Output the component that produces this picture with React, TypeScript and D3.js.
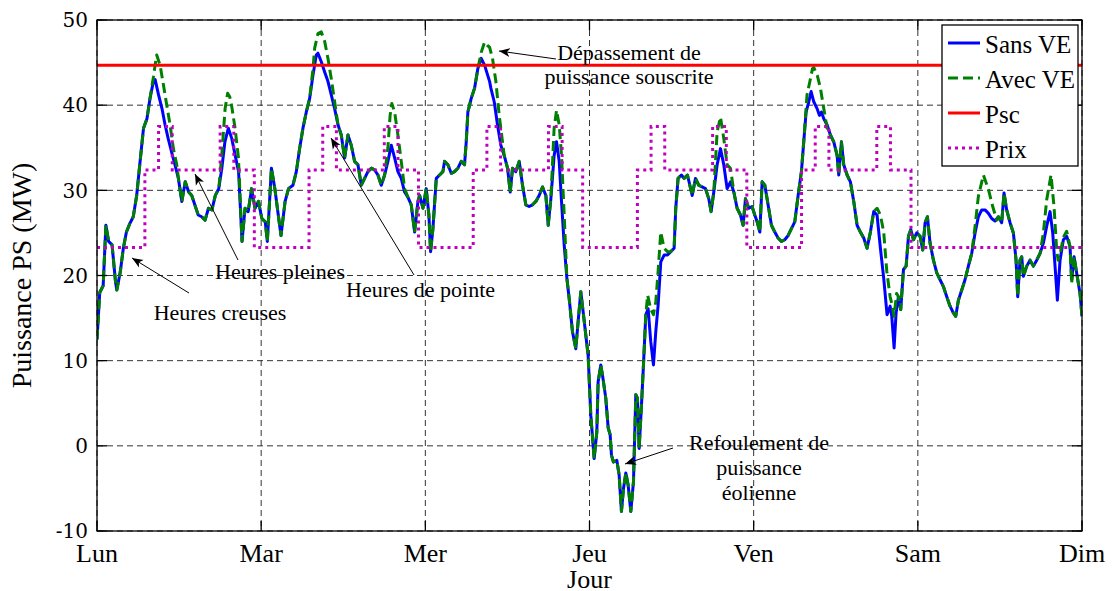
import { useEffect, useRef } from "react";
import * as d3 from "d3";

// hours since Monday 00:00, power in MW
const sansVE: [number, number][] = [
	[0, 12.5], [0.4, 18], [0.9, 18.8], [1.3, 25.9], [1.7, 24], [2.2, 23.6], [2.7, 19.3], [2.9, 18.3],
	[3.4, 20.4], [3.85, 23.2], [4.3, 25.1], [4.8, 26.1], [5.3, 26.9], [5.8, 29.4], [6.3, 33.4], [6.8, 37.3],
	[7.3, 38.4], [7.75, 40.8], [8.25, 42.8], [8.5, 43], [9, 41.2], [9.5, 39.6], [9.95, 37.7], [10.4, 36.1],
	[10.9, 34.5], [11.4, 33], [11.9, 31.4], [12.4, 28.7], [12.9, 31], [13.4, 29.8], [13.85, 29.4], [14.3, 28.3],
	[14.8, 27.1], [15.3, 26.9], [15.8, 26.5], [16.3, 27.9], [16.8, 27.7], [17.3, 29.4], [17.8, 30.2], [18.25, 32.6],
	[18.7, 35.7], [19.2, 37.3], [19.7, 36.1], [20.2, 34.1], [20.7, 32.2], [21.2, 24], [21.65, 27.9], [22.1, 27.5],
	[22.6, 30.2], [23.1, 27.9], [23.6, 28.7], [24.1, 26.7], [24.6, 26.3], [24.9, 24], [25.5, 32.6], [26, 30.2],
	[26.5, 27.1], [26.9, 24.7], [27.5, 28.7], [28, 30.2], [28.65, 30.6], [29.14, 32.2], [29.62, 34.9], [30.11, 37.3],
	[30.6, 39.2], [31.09, 40.8], [31.57, 43.5], [32.06, 45.9], [32.3, 46.1], [32.79, 45.1], [33.28, 43.9], [33.76, 42.8],
	[34.25, 41.2], [34.74, 39.6], [35.23, 37.7], [35.71, 36.5], [36.2, 33.8], [36.69, 36.5], [37.17, 35.3], [37.66, 33.4],
	[38.15, 33], [38.64, 30.6], [39.12, 31.4], [39.61, 32.2], [40.1, 32.6], [40.58, 32.4], [41.07, 31.8], [41.56, 30.6],
	[42.05, 31.8], [42.53, 33.4], [43.02, 35.3], [43.51, 33.8], [43.99, 32.2], [44.48, 31.4], [44.97, 29.8], [45.45, 29.2],
	[45.94, 28.3], [46.43, 25.1], [46.92, 28.7], [47.16, 29.4], [47.65, 27.9], [48.13, 30.2], [48.52, 27.1], [48.77, 22.8],
	[49.11, 25.5], [49.6, 31.4], [50.08, 31.8], [50.57, 32.2], [50.81, 33.4], [51.3, 33], [51.79, 32], [52.27, 32.2],
	[52.76, 32.6], [53.25, 33.4], [53.73, 33], [53.98, 35.7], [54.22, 39.2], [54.71, 40.8], [55.2, 42], [55.68, 44.3],
	[56.17, 45.5], [56.66, 44.7], [57.39, 42.8], [57.58, 42], [58.07, 40.4], [58.55, 37.7], [59.04, 35.3], [59.53, 34.1],
	[60.02, 32.6], [60.41, 29.8], [60.75, 32.6], [61.23, 32.2], [61.72, 33.4], [62.21, 30.6], [62.69, 28.3], [63.18, 28.1],
	[63.67, 28.3], [64.16, 28.7], [64.64, 29.4], [65.13, 30.4], [65.62, 29.4], [65.96, 25.9], [66.35, 29], [66.83, 34.1],
	[67.18, 35.7], [67.57, 33.4], [67.91, 28.7], [68.3, 23.6], [68.69, 19.7], [69.03, 17.3], [69.51, 13.4], [70, 11.4],
	[70.34, 14.6], [70.73, 18.1], [71.12, 15.4], [71.46, 13], [71.8, 10.6], [72.19, 3.6], [72.68, -1.5], [73.07, 1.6],
	[73.26, 7.5], [73.65, 9.5], [73.9, 8.3], [74.38, 5.6], [74.73, 2.1], [75.02, 1.3], [75.21, -1.1], [75.5, -1.9],
	[75.99, -1.7], [76.33, -3.4], [76.67, -7.7], [76.97, -5], [77.31, -3.2], [77.65, -4.6], [78.04, -7.7], [78.43, -4.2],
	[78.77, 6], [79.01, 5.6], [79.26, -0.3], [79.6, 4.8], [79.89, 9.5], [80.23, 15.4], [80.57, 16.1], [80.96, 12.2],
	[81.35, 9.5], [81.69, 13.4], [82.03, 16.5], [82.42, 21.6], [82.91, 22.4], [83.4, 22.4], [83.88, 22.8], [84.37, 23.2],
	[84.61, 27.9], [84.95, 31.4], [85.44, 31.8], [85.83, 31.4], [86.32, 31.8], [87.01, 29.4], [87.49, 31.4], [87.98, 30.6],
	[88.47, 30.4], [88.96, 30.2], [89.44, 29], [89.78, 27.5], [90.17, 29.8], [90.66, 33], [91.15, 34.9], [91.63, 33],
	[92.12, 30.2], [92.61, 31], [93.1, 29.8], [93.58, 27.9], [94.07, 27.1], [94.46, 25.9], [94.8, 29], [95.29, 27.9],
	[95.77, 28.1], [96.16, 27.1], [96.51, 26.3], [96.9, 25.1], [97.24, 31], [97.63, 30.6], [98.11, 28.3], [98.6, 25.9],
	[99.09, 25.1], [99.57, 24.4], [100.06, 24], [100.55, 24.2], [101.04, 24.7], [101.52, 25.5], [102.01, 26.3], [102.5, 29.4],
	[102.98, 32.2], [103.32, 35.7], [103.67, 39.2], [104.06, 40.4], [104.4, 41.6], [104.79, 40.4], [105.27, 39.6], [105.61, 38.8],
	[105.91, 39.2], [106.25, 38.4], [106.73, 37.7], [107.22, 36.5], [107.71, 35.7], [108.2, 34.1], [108.44, 31.8], [108.83, 35.7],
	[109.17, 33], [109.66, 31.8], [110.14, 31], [110.63, 28.7], [111.12, 25.9], [111.6, 25.1], [112.09, 24.4], [112.58, 23.2],
	[113.07, 25.1], [113.55, 27.5], [114.04, 27.1], [114.53, 23.2], [115.01, 19.7], [115.5, 15.4], [115.95, 16.4], [116.19, 15.2],
	[116.53, 11.5], [116.82, 15.6], [117.16, 17.5], [117.5, 16], [117.9, 20.7], [118.29, 21.1], [118.63, 24.6], [118.97, 25.4],
	[119.36, 24.2], [119.84, 25], [120.33, 24.6], [120.72, 23], [121.06, 26.2], [121.4, 26.9], [121.79, 23.8], [122.28, 21.8],
	[122.77, 20.3], [123.25, 19.5], [123.74, 18.7], [124.23, 17.5], [124.71, 16.4], [125.2, 15.6], [125.54, 15.2], [125.93, 17.1],
	[126.42, 18.3], [126.9, 19.5], [127.39, 21.1], [127.88, 22.6], [128.37, 25], [128.85, 26.9], [129.34, 27.7], [129.83, 27.7],
	[130.32, 27.3], [130.8, 26.7], [131.29, 26.4], [131.78, 26.9], [132.26, 26.2], [132.6, 29.7], [132.99, 27.7], [133.48, 26.2],
	[133.97, 25], [134.36, 21.8], [134.6, 17.5], [134.94, 21.8], [135.19, 22.2], [135.43, 19.9], [135.92, 21.1], [136.4, 21.8],
	[136.89, 21.1], [137.38, 21.8], [137.87, 22.6], [138.35, 23.8], [138.84, 25.8], [139.33, 27.5], [139.72, 25], [140.06, 21.1],
	[140.4, 17.1], [140.79, 21.8], [141.28, 24.2], [141.76, 24.6], [142.25, 23.4], [142.49, 19.5], [142.84, 22.2], [143.22, 20.3],
	[143.71, 17.9], [144, 15.2],
];

const avecVE: [number, number][] = [
	[0, 12.5], [0.4, 18], [0.9, 18.8], [1.3, 25.9], [1.7, 24], [2.2, 23.6], [2.7, 19.3], [2.9, 18.3],
	[3.4, 20.4], [3.85, 23.2], [4.3, 25.1], [4.8, 26.1], [5.3, 26.9], [5.8, 29.4], [6.3, 33.4], [6.8, 37.3],
	[7.3, 38.4], [7.75, 40.8], [8.25, 43.3], [8.49, 44.7], [8.73, 45.9], [9.22, 44.7], [9.71, 42.4], [10.2, 40],
	[10.68, 37.7], [11.17, 34.9], [11.66, 33], [11.9, 31.4], [12.4, 28.7], [12.9, 31], [13.4, 29.8], [13.85, 29.4],
	[14.3, 28.3], [14.8, 27.1], [15.3, 26.9], [15.8, 26.5], [16.3, 27.9], [16.8, 27.7], [17.3, 29.4], [17.8, 30.2],
	[18.24, 34.1], [18.73, 39.6], [19.1, 41.4], [19.4, 41], [19.71, 39.8], [20.2, 37.2], [20.68, 33.8], [21.2, 24],
	[21.65, 27.9], [22.1, 27.5], [22.6, 30.2], [23.1, 27.9], [23.6, 28.7], [24.1, 26.7], [24.6, 26.3], [24.9, 24],
	[25.5, 32.6], [26, 30.2], [26.5, 27.1], [26.9, 24.7], [27.5, 28.7], [28, 30.2], [28.65, 30.6], [29.14, 32.2],
	[29.62, 34.9], [30.11, 37.3], [30.6, 39.2], [31.09, 40.8], [31.57, 44.2], [31.82, 46.7], [32.3, 48.4], [32.79, 48.6],
	[33.28, 47.5], [33.76, 45.5], [34.25, 43.1], [34.74, 40.4], [35.23, 37.7], [35.71, 36.5], [36.2, 33.8], [36.69, 36.5],
	[37.17, 35.3], [37.66, 33.4], [38.15, 33], [38.64, 30.6], [39.12, 31.4], [39.61, 32.2], [40.1, 32.6], [40.58, 32.4],
	[41.07, 31.8], [41.56, 30.6], [42.05, 31.8], [42.53, 35], [42.85, 38.8], [43.1, 40.2], [43.51, 39.2], [43.99, 36.5],
	[44.48, 33.4], [44.97, 30.2], [45.45, 29.2], [45.94, 28.3], [46.43, 25.1], [46.92, 28.7], [47.16, 29.4], [47.65, 27.9],
	[48.13, 30.2], [48.52, 27.1], [48.77, 22.8], [49.11, 25.5], [49.6, 31.4], [50.08, 31.8], [50.57, 32.2], [50.81, 33.4],
	[51.3, 33], [51.79, 32], [52.27, 32.2], [52.76, 32.6], [53.25, 33.4], [53.73, 33], [53.98, 35.7], [54.22, 39.2],
	[54.71, 40.8], [55.2, 42], [55.68, 44.3], [56.17, 46.2], [56.66, 47.4], [57.1, 47], [57.39, 46.8], [57.82, 45.5],
	[58.31, 42.8], [58.8, 38.8], [59.28, 35.7], [59.53, 34.1], [60.02, 32.6], [60.41, 29.8], [60.75, 32.6], [61.23, 32.2],
	[61.72, 33.4], [62.21, 30.6], [62.69, 28.3], [63.18, 28.1], [63.67, 28.3], [64.16, 28.7], [64.64, 29.4], [65.13, 30.4],
	[65.62, 29.4], [65.96, 25.9], [66.35, 29], [66.83, 37.3], [67.18, 39.4], [67.57, 37.7], [67.91, 34.1], [68.3, 27.1],
	[68.69, 19.7], [69.03, 17.3], [69.51, 13.4], [70, 11.4], [70.34, 14.6], [70.73, 18.1], [71.12, 15.4], [71.46, 13],
	[71.8, 10.6], [72.19, 3.6], [72.68, -1.5], [73.07, 1.6], [73.26, 7.5], [73.65, 9.5], [73.9, 8.3], [74.38, 5.6],
	[74.73, 2.1], [75.02, 1.3], [75.21, -1.1], [75.5, -1.9], [75.99, -1.7], [76.33, -3.4], [76.67, -7.7], [76.97, -5],
	[77.31, -3.2], [77.65, -4.6], [78.04, -7.7], [78.43, -4.2], [78.77, 6], [79.01, 5.6], [79.26, -0.3], [79.6, 4.8],
	[79.89, 9.5], [80.23, 15.4], [80.5, 17.7], [80.96, 16], [81.35, 15.4], [81.69, 16.9], [82.03, 20.5], [82.42, 25.1],
	[82.91, 23.2], [83.4, 22.8], [83.88, 22.8], [84.37, 23.2], [84.61, 27.9], [84.95, 31.4], [85.44, 31.8], [85.83, 31.4],
	[86.32, 31.8], [87.01, 29.4], [87.49, 31.4], [87.98, 30.6], [88.47, 30.4], [88.96, 30.2], [89.44, 29], [89.78, 27.5],
	[90.17, 29.8], [90.66, 36.9], [91.15, 38.6], [91.63, 36.1], [92.12, 33], [92.61, 32.6], [93.1, 29.8], [93.58, 27.9],
	[94.07, 27.1], [94.46, 25.9], [94.8, 29], [95.29, 27.9], [95.77, 28.1], [96.16, 27.1], [96.51, 26.3], [96.9, 25.1],
	[97.24, 31], [97.63, 30.6], [98.11, 28.3], [98.6, 25.9], [99.09, 25.1], [99.57, 24.4], [100.06, 24], [100.55, 24.2],
	[101.04, 24.7], [101.52, 25.5], [102.01, 26.3], [102.5, 29.4], [102.98, 32.2], [103.32, 35.7], [103.8, 41.2], [104.3, 43.1],
	[104.6, 44.3], [104.8, 44.4], [105.3, 43.5], [105.76, 42], [106.25, 39.6], [106.73, 37.3], [107.22, 36.5], [107.71, 35.7],
	[108.2, 34.1], [108.44, 31.8], [108.83, 35.7], [109.17, 33], [109.66, 31.8], [110.14, 31], [110.63, 28.7], [111.12, 25.9],
	[111.6, 25.1], [112.09, 24.4], [112.58, 23.2], [113.07, 25.1], [113.55, 27.5], [114.04, 27.9], [114.53, 27.1], [115.01, 25.1],
	[115.46, 20.5], [115.95, 17.5], [116.19, 16.7], [116.53, 15.2], [116.9, 17.9], [117.16, 17.5], [117.5, 16], [117.9, 20.7],
	[118.29, 21.1], [118.63, 24.6], [118.97, 25.4], [119.36, 24.2], [119.84, 25], [120.33, 24.6], [120.72, 23], [121.06, 26.2],
	[121.4, 26.9], [121.79, 23.8], [122.28, 21.8], [122.77, 20.3], [123.25, 19.5], [123.74, 18.7], [124.23, 17.5], [124.71, 16.4],
	[125.2, 15.6], [125.54, 15.2], [125.93, 17.1], [126.42, 18.3], [126.9, 19.5], [127.39, 21.1], [127.88, 22.6], [128.37, 25.8],
	[128.85, 29.3], [129.59, 31.8], [130.32, 30.1], [130.95, 28.1], [131.53, 26.5], [131.78, 26.9], [132.26, 26.2], [132.6, 29.7],
	[132.99, 27.7], [133.48, 26.2], [133.97, 25], [134.36, 21.8], [134.6, 17.5], [134.94, 21.8], [135.19, 22.2], [135.43, 19.9],
	[135.92, 21.1], [136.4, 21.8], [136.89, 21.1], [137.38, 21.8], [137.87, 22.6], [138.35, 25], [138.84, 28.9], [139.47, 31.8],
	[139.91, 28.1], [140.3, 23], [140.5, 21.8], [140.79, 22.5], [141.28, 24.5], [141.76, 25.2], [142.25, 23.4], [142.49, 19.1],
	[142.84, 22.2], [143.22, 20.3], [143.71, 17.9], [144, 15.2],
];

const psc = 44.7;

// tariff steps: start hour of each period and its level
const prixHours = [0, 7, 9, 11, 18, 20, 23, 31, 33, 35, 42, 44, 47, 55, 57, 59, 66, 68, 71, 79, 81, 83, 90, 92, 95, 103, 105, 107, 114, 116, 119, 144];
const prixLevels = [23.3, 32.4, 37.5, 32.4, 37.5, 32.4, 23.3, 32.4, 37.5, 32.4, 37.5, 32.4, 23.3, 32.4, 37.5, 32.4, 37.5, 32.4, 23.3, 32.4, 37.5, 32.4, 37.5, 32.4, 23.3, 32.4, 37.5, 32.4, 37.5, 32.4, 23.3, 23.3];

const dayLabels = ["Lun", "Mar", "Mer", "Jeu", "Ven", "Sam", "Dim"];
const yTicks = [-10, 0, 10, 20, 30, 40, 50];

const legendItems = [
	{ label: "Sans VE", color: "#0000ff", dash: "none" },
	{ label: "Avec VE", color: "#008000", dash: "10,5" },
	{ label: "Psc", color: "#ff0000", dash: "none" },
	{ label: "Prix", color: "#bf00bf", dash: "3,4" },
];

export default function App() {
	const svgRef = useRef<SVGSVGElement>(null);
	const width = 1112;
	const height = 591;

	useEffect(() => {
		if (!svgRef.current) return;
		const svg = d3.select(svgRef.current);
		svg.selectAll("*").remove();

		const left = 97, right = 1082, top = 20, bottom = 531;
		const x = d3.scaleLinear().domain([0, 144]).range([left, right]);
		const y = d3.scaleLinear().domain([-10, 50]).range([bottom, top]);
		const serif = "'Liberation Serif', 'Times New Roman', serif";

		svg.append("rect").attr("width", width).attr("height", height).attr("fill", "#fff");

		const defs = svg.append("defs");
		defs.append("marker")
			.attr("id", "arrow")
			.attr("viewBox", "0 -5 12 10")
			.attr("refX", 11)
			.attr("refY", 0)
			.attr("markerWidth", 12)
			.attr("markerHeight", 10)
			.attr("markerUnits", "userSpaceOnUse")
			.attr("orient", "auto")
			.append("path")
			.attr("d", "M0,-4.5L11,0L0,4.5L3,0Z")
			.attr("fill", "#000");
		defs.append("clipPath").attr("id", "plot-clip")
			.append("rect").attr("x", left).attr("y", top).attr("width", right - left).attr("height", bottom - top);

		// grid
		const grid = svg.append("g").attr("stroke", "#333").attr("stroke-width", 1).attr("stroke-dasharray", "6,4");
		yTicks.forEach((t) => {
			grid.append("line").attr("x1", left).attr("x2", right).attr("y1", y(t)).attr("y2", y(t));
		});
		dayLabels.forEach((_, i) => {
			grid.append("line").attr("x1", x(i * 24)).attr("x2", x(i * 24)).attr("y1", top).attr("y2", bottom);
		});

		const plot = svg.append("g").attr("clip-path", "url(#plot-clip)");
		const line = d3.line<[number, number]>().x((d) => x(d[0])).y((d) => y(d[1]));

		plot.append("path").datum(sansVE)
			.attr("fill", "none").attr("stroke", "#0000ff").attr("stroke-width", 3)
			.attr("stroke-linejoin", "round").attr("d", line);
		plot.append("path").datum(avecVE)
			.attr("fill", "none").attr("stroke", "#008000").attr("stroke-width", 3)
			.attr("stroke-dasharray", "10,5").attr("stroke-linejoin", "round").attr("d", line);
		plot.append("line")
			.attr("x1", x(0)).attr("x2", x(144)).attr("y1", y(psc)).attr("y2", y(psc))
			.attr("stroke", "#ff0000").attr("stroke-width", 3);

		const prixData: [number, number][] = prixHours.map((h, i) => [h, prixLevels[i]]);
		const stepLine = d3.line<[number, number]>().x((d) => x(d[0])).y((d) => y(d[1])).curve(d3.curveStepAfter);
		plot.append("path").datum(prixData)
			.attr("fill", "none").attr("stroke", "#bf00bf").attr("stroke-width", 3)
			.attr("stroke-dasharray", "3,4").attr("d", stepLine);

		// box + inward ticks
		const axes = svg.append("g").attr("stroke", "#000").attr("stroke-width", 1.3);
		axes.append("rect").attr("x", left).attr("y", top).attr("width", right - left).attr("height", bottom - top).attr("fill", "none");
		yTicks.forEach((t) => {
			axes.append("line").attr("x1", left).attr("x2", left + 10).attr("y1", y(t)).attr("y2", y(t));
			axes.append("line").attr("x1", right).attr("x2", right - 10).attr("y1", y(t)).attr("y2", y(t));
		});
		dayLabels.forEach((_, i) => {
			axes.append("line").attr("x1", x(i * 24)).attr("x2", x(i * 24)).attr("y1", bottom).attr("y2", bottom - 10);
			axes.append("line").attr("x1", x(i * 24)).attr("x2", x(i * 24)).attr("y1", top).attr("y2", top + 10);
		});

		// tick labels
		svg.append("g").selectAll("text").data(yTicks).join("text")
			.attr("x", left - 9).attr("y", (d) => y(d)).attr("dy", "0.36em")
			.attr("text-anchor", "end").attr("font-family", "'DejaVu Serif', serif").attr("font-size", 20)
			.text((d) => d);
		svg.append("g").selectAll("text").data(dayLabels).join("text")
			.attr("x", (_, i) => x(i * 24)).attr("y", 562)
			.attr("text-anchor", "middle").attr("font-family", serif).attr("font-size", 26)
			.text((d) => d);

		svg.append("text").attr("x", (left + right) / 2).attr("y", 588)
			.attr("text-anchor", "middle").attr("font-family", serif).attr("font-size", 26).text("Jour");
		svg.append("text")
			.attr("transform", `translate(31,${(top + bottom) / 2}) rotate(-90)`)
			.attr("text-anchor", "middle").attr("font-family", serif).attr("font-size", 28)
			.text("Puissance PS (MW)");

		// annotations
		const notes = svg.append("g").attr("font-family", serif).attr("font-size", 22).attr("fill", "#000");
		notes.append("text").attr("x", 220).attr("y", 320).attr("text-anchor", "middle").text("Heures creuses");
		notes.append("text").attr("x", 215).attr("y", 279).text("Heures pleines");
		notes.append("text").attr("x", 346).attr("y", 297).text("Heures de pointe");
		notes.append("text").attr("x", 629).attr("y", 60).attr("text-anchor", "middle").text("Dépassement de");
		notes.append("text").attr("x", 629).attr("y", 84).attr("text-anchor", "middle").text("puissance souscrite");
		notes.append("text").attr("x", 759).attr("y", 450).attr("text-anchor", "middle").text("Refoulement de");
		notes.append("text").attr("x", 759).attr("y", 475).attr("text-anchor", "middle").text("puissance");
		notes.append("text").attr("x", 759).attr("y", 500).attr("text-anchor", "middle").text("éolienne");

		const arrows = [
			[189, 293, 132, 258],
			[238, 260, 195, 174],
			[414, 275, 331, 138],
			[556, 59, 499, 51],
			[673, 448, 625, 464],
		];
		svg.append("g").selectAll("line").data(arrows).join("line")
			.attr("x1", (d) => d[0]).attr("y1", (d) => d[1]).attr("x2", (d) => d[2]).attr("y2", (d) => d[3])
			.attr("stroke", "#000").attr("stroke-width", 1).attr("marker-end", "url(#arrow)");

		// legend
		const lg = svg.append("g");
		lg.append("rect").attr("x", 942).attr("y", 25).attr("width", 136).attr("height", 141)
			.attr("fill", "#fff").attr("stroke", "#000").attr("stroke-width", 1.3);
		legendItems.forEach((item, i) => {
			const cy = 43 + i * 35;
			lg.append("line").attr("x1", 948).attr("x2", 980).attr("y1", cy).attr("y2", cy)
				.attr("stroke", item.color).attr("stroke-width", 3).attr("stroke-dasharray", item.dash);
			lg.append("text").attr("x", 985).attr("y", cy + 1).attr("dy", "0.35em")
				.attr("font-family", serif).attr("font-size", 25).text(item.label);
		});
	}, []);

	return (
		<svg
			ref={svgRef}
			width={width}
			height={height}
			style={{ position: "absolute", left: 0, top: 0 }}
		/>
	);
}
